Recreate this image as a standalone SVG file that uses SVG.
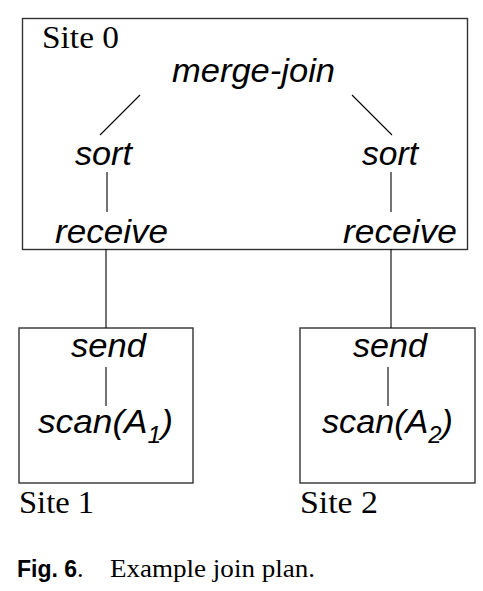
<svg xmlns="http://www.w3.org/2000/svg" width="483" height="591" viewBox="0 0 483 591">
<style>
.box{fill:none;stroke:#333;stroke-width:1.4}
.ln{stroke:#000;stroke-width:1.1;fill:none}
.op{font-family:"Liberation Sans",Arial,sans-serif;font-style:italic;font-size:33px;fill:#000}
.site{font-family:"Liberation Serif","Times New Roman",serif;font-size:31px;fill:#000}
.capb{font-family:"Liberation Sans",Arial,sans-serif;font-weight:bold;font-size:23px;fill:#000}
.capt{font-family:"Liberation Serif","Times New Roman",serif;font-size:26px;fill:#000}
</style>
<rect width="483" height="591" fill="#fff"/>
<g id="site0">
<rect class="box" x="22.5" y="18.5" width="445" height="231"/>
<text class="site" x="42" y="48" textLength="77" lengthAdjust="spacingAndGlyphs">Site 0</text>
</g>
<g id="merge-join"><text class="op" x="172" y="82" textLength="163" lengthAdjust="spacingAndGlyphs">merge-join</text></g>
<g id="sort-left"><text class="op" x="75" y="165" textLength="57" lengthAdjust="spacingAndGlyphs">sort</text></g>
<g id="sort-right"><text class="op" x="362" y="165" textLength="56" lengthAdjust="spacingAndGlyphs">sort</text></g>
<g id="receive-left"><text class="op" x="55" y="243" textLength="113" lengthAdjust="spacingAndGlyphs">receive</text></g>
<g id="receive-right"><text class="op" x="343" y="243" textLength="114" lengthAdjust="spacingAndGlyphs">receive</text></g>
<g id="site1">
<rect class="box" x="19" y="328" width="174" height="155"/>
<text class="site" x="19" y="513" textLength="75" lengthAdjust="spacingAndGlyphs">Site 1</text>
<g id="send-left"><text class="op" x="71" y="357" textLength="75" lengthAdjust="spacingAndGlyphs">send</text></g>
<g id="scan-a1"><text class="op" x="38" y="433" textLength="135" lengthAdjust="spacingAndGlyphs">scan(A<tspan font-size="23" dy="10">1</tspan><tspan dy="-10">)</tspan></text></g>
</g>
<g id="site2">
<rect class="box" x="300" y="328" width="175" height="155"/>
<text class="site" x="300" y="513" textLength="78" lengthAdjust="spacingAndGlyphs">Site 2</text>
<g id="send-right"><text class="op" x="353" y="357" textLength="74" lengthAdjust="spacingAndGlyphs">send</text></g>
<g id="scan-a2"><text class="op" x="322" y="433" textLength="131" lengthAdjust="spacingAndGlyphs">scan(A<tspan font-size="23" dy="10">2</tspan><tspan dy="-10">)</tspan></text></g>
</g>
<g id="connectors">
<line class="ln" x1="140" y1="95" x2="100" y2="135"/>
<line class="ln" x1="352" y1="95" x2="392" y2="135"/>
<line class="ln" x1="107" y1="172" x2="107" y2="212"/>
<line class="ln" x1="391" y1="172" x2="391" y2="212"/>
<line class="ln" x1="106" y1="249" x2="106" y2="328"/>
<line class="ln" x1="391" y1="249" x2="391" y2="328"/>
<line class="ln" x1="106" y1="367" x2="106" y2="406"/>
<line class="ln" x1="388" y1="367" x2="388" y2="406"/>
</g>
<g id="caption">
<text x="17" y="577"><tspan class="capb">Fig. 6</tspan><tspan class="capt">.</tspan></text>
<text class="capt" x="110" y="577" textLength="205" lengthAdjust="spacingAndGlyphs">Example join plan.</text>
</g>
</svg>
